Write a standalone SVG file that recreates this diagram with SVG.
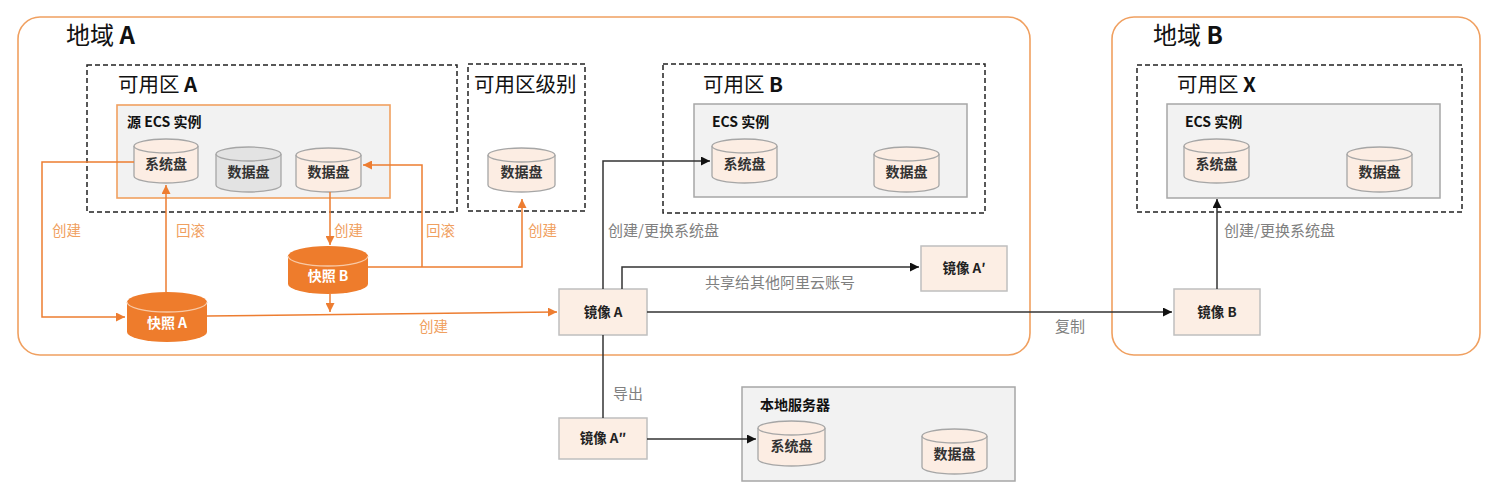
<svg xmlns="http://www.w3.org/2000/svg" width="1493" height="500" viewBox="0 0 1493 500">
<defs>
<style>
text{font-family:"Noto Sans CJK SC","Noto Sans",sans-serif;}
.region{fill:#fff;stroke:#F0A060;stroke-width:1.6;}
.zone{fill:none;stroke:#222;stroke-width:1.5;stroke-dasharray:5,3;}
.ecs{fill:#F2F2F2;stroke:#A6A6A6;stroke-width:1.5;}
.ecsSrc{fill:#F2F2F2;stroke:#F0A060;stroke-width:1.6;}
.disk{fill:#FCEDE3;stroke:#A6A6A6;stroke-width:1.3;}
.diskGray{fill:#E3E3E3;stroke:#A6A6A6;stroke-width:1.3;}
.snap{fill:#EE7C2C;stroke:none;}
.snapTop{fill:none;stroke:#F8C9A6;stroke-width:1.3;}
.img{fill:#FCEEE4;stroke:#BFBFBF;stroke-width:1.5;}
.title{font-size:24px;fill:#111;}
.ztitle{font-size:20.5px;fill:#111;}
.etitle{font-size:14px;font-weight:bold;fill:#111;}
.dlabel{font-size:14px;font-weight:bold;fill:#333;text-anchor:middle;}
.slabel{font-size:14px;font-weight:bold;fill:#fff;text-anchor:middle;}
.ilabel{font-size:13.5px;font-weight:bold;fill:#222;text-anchor:middle;}
.olabel{font-size:14.5px;fill:#F0A060;}
.glabel{font-size:15px;fill:#808080;}
.oline{fill:none;stroke:#ED7D31;stroke-width:1.5;}
.bline{fill:none;stroke:#333;stroke-width:1.5;}
</style>
<marker id="ao" viewBox="0 0 10 10" refX="10" refY="5" markerWidth="9" markerHeight="9" markerUnits="userSpaceOnUse" orient="auto"><path d="M0,0 L10,5 L0,10 z" fill="#ED7D31"/></marker>
<marker id="ab" viewBox="0 0 10 10" refX="10" refY="5" markerWidth="9" markerHeight="9" markerUnits="userSpaceOnUse" orient="auto"><path d="M0,0 L10,5 L0,10 z" fill="#111"/></marker>
</defs>
<rect width="1493" height="500" fill="#fff"/>

<g id="regionA">
<rect class="region" x="18" y="17" width="1012" height="338" rx="22"/>
<text class="title" x="66" y="44">地域 <tspan font-weight="bold">A</tspan></text>
</g>
<g id="regionB">
<rect class="region" x="1112" y="17" width="368" height="338" rx="22"/>
<text class="title" x="1153" y="44">地域 <tspan font-weight="bold">B</tspan></text>
</g>

<g id="zoneA">
<rect class="zone" x="87" y="65" width="370" height="147"/>
<text class="ztitle" x="118" y="92">可用区 <tspan font-weight="bold">A</tspan></text>
</g>
<g id="zoneLevel">
<rect class="zone" x="468" y="64" width="117" height="147"/>
<text class="ztitle" x="474" y="92">可用区级别</text>
</g>
<g id="zoneB">
<rect class="zone" x="663" y="64" width="322" height="149"/>
<text class="ztitle" x="703" y="92">可用区 <tspan font-weight="bold">B</tspan></text>
</g>
<g id="zoneX">
<rect class="zone" x="1137" y="65" width="325" height="147"/>
<text class="ztitle" x="1177" y="92">可用区 <tspan font-weight="bold">X</tspan></text>
</g>

<g id="srcEcs">
<rect class="ecsSrc" x="117" y="105" width="273" height="93"/>
<text class="etitle" x="127" y="127">源 ECS 实例</text>
</g>
<g id="ecsB">
<rect class="ecs" x="694" y="104" width="273" height="93"/>
<text class="etitle" x="712" y="127">ECS 实例</text>
</g>
<g id="ecsX">
<rect class="ecs" x="1167" y="104" width="273" height="94"/>
<text class="etitle" x="1185" y="127">ECS 实例</text>
</g>
<g id="localServer">
<rect class="ecs" x="742" y="387" width="273" height="94"/>
<text class="etitle" x="760" y="410">本地服务器</text>
</g>

<g id="sysDiskA">
<path class="disk" d="M134,146 A32,7 0 0 1 198,146 V176 A32,7 0 0 1 134,176 Z"/>
<path class="disk" d="M134,146 A32,7 0 0 0 198,146"/>
<text class="dlabel" x="166" y="169">系统盘</text>
</g>
<g id="dataDiskGray">
<path class="diskGray" d="M216,154 A32.5,7 0 0 1 281,154 V185 A32.5,7 0 0 1 216,185 Z"/>
<path class="diskGray" d="M216,154 A32.5,7 0 0 0 281,154"/>
<text class="dlabel" x="248.5" y="177">数据盘</text>
</g>
<g id="dataDiskA">
<path class="disk" d="M296,155 A32.5,7 0 0 1 361,155 V185 A32.5,7 0 0 1 296,185 Z"/>
<path class="disk" d="M296,155 A32.5,7 0 0 0 361,155"/>
<text class="dlabel" x="328.5" y="177">数据盘</text>
</g>
<g id="dataDiskZone">
<path class="disk" d="M488,155 A33.5,7 0 0 1 555,155 V185 A33.5,7 0 0 1 488,185 Z"/>
<path class="disk" d="M488,155 A33.5,7 0 0 0 555,155"/>
<text class="dlabel" x="521.5" y="177">数据盘</text>
</g>
<g id="sysDiskB">
<path class="disk" d="M712,146 A32.5,7 0 0 1 777,146 V176 A32.5,7 0 0 1 712,176 Z"/>
<path class="disk" d="M712,146 A32.5,7 0 0 0 777,146"/>
<text class="dlabel" x="744.5" y="169">系统盘</text>
</g>
<g id="dataDiskB">
<path class="disk" d="M874,154 A32.5,7 0 0 1 939,154 V185 A32.5,7 0 0 1 874,185 Z"/>
<path class="disk" d="M874,154 A32.5,7 0 0 0 939,154"/>
<text class="dlabel" x="906.5" y="177">数据盘</text>
</g>
<g id="sysDiskX">
<path class="disk" d="M1184,146 A32.5,7 0 0 1 1249,146 V176 A32.5,7 0 0 1 1184,176 Z"/>
<path class="disk" d="M1184,146 A32.5,7 0 0 0 1249,146"/>
<text class="dlabel" x="1216.5" y="169">系统盘</text>
</g>
<g id="dataDiskX">
<path class="disk" d="M1347,154 A32.5,7 0 0 1 1412,154 V185 A32.5,7 0 0 1 1347,185 Z"/>
<path class="disk" d="M1347,154 A32.5,7 0 0 0 1412,154"/>
<text class="dlabel" x="1379.5" y="177">数据盘</text>
</g>
<g id="sysDiskLocal">
<path class="disk" d="M758,428 A33.5,7 0 0 1 825,428 V459 A33.5,7 0 0 1 758,459 Z"/>
<path class="disk" d="M758,428 A33.5,7 0 0 0 825,428"/>
<text class="dlabel" x="791.5" y="451">系统盘</text>
</g>
<g id="dataDiskLocal">
<path class="disk" d="M922,436 A32.5,7 0 0 1 987,436 V467 A32.5,7 0 0 1 922,467 Z"/>
<path class="disk" d="M922,436 A32.5,7 0 0 0 987,436"/>
<text class="dlabel" x="954.5" y="459">数据盘</text>
</g>

<g id="snapA">
<path class="snap" d="M127,302 A40,10 0 0 1 207,302 V332 A40,10 0 0 1 127,332 Z"/>
<path class="snapTop" d="M127,302 A40,10 0 0 0 207,302"/>
<text class="slabel" x="167" y="328">快照 A</text>
</g>
<g id="snapB">
<path class="snap" d="M288,256 A40,10 0 0 1 368,256 V284 A40,10 0 0 1 288,284 Z"/>
<path class="snapTop" d="M288,256 A40,10 0 0 0 368,256"/>
<text class="slabel" x="328" y="281">快照 B</text>
</g>

<g id="imageA">
<rect class="img" x="559" y="289" width="88" height="46"/>
<text class="ilabel" x="603" y="317">镜像 A</text>
</g>
<g id="imageA1">
<rect class="img" x="921" y="246" width="86" height="45"/>
<text class="ilabel" x="964" y="273">镜像 A′</text>
</g>
<g id="imageB">
<rect class="img" x="1174" y="289" width="86" height="46"/>
<text class="ilabel" x="1217" y="317">镜像 B</text>
</g>
<g id="imageA2">
<rect class="img" x="559" y="418" width="88" height="41"/>
<text class="ilabel" x="603" y="443">镜像 A″</text>
</g>

<g id="connectors">
<polyline class="oline" points="134,162 42,162 42,317 125,317" marker-end="url(#ao)"/>
<line class="oline" x1="166" y1="292" x2="166" y2="185" marker-end="url(#ao)"/>
<line class="oline" x1="330" y1="192" x2="330" y2="245" marker-end="url(#ao)"/>
<polyline class="oline" points="368,267 522,267 522,199" marker-end="url(#ao)"/>
<polyline class="oline" points="422,267 422,165 363,165" marker-end="url(#ao)"/>
<line class="oline" x1="330" y1="294" x2="330" y2="312" marker-end="url(#ao)"/>
<line class="oline" x1="207" y1="316" x2="557" y2="312" marker-end="url(#ao)"/>

<polyline class="bline" points="603,289 603,161 710,161" marker-end="url(#ab)"/>
<polyline class="bline" points="622,289 622,267 919,267" marker-end="url(#ab)"/>
<line class="bline" x1="647" y1="312" x2="1172" y2="312" marker-end="url(#ab)"/>
<line class="bline" x1="1217" y1="289" x2="1217" y2="199" marker-end="url(#ab)"/>
<line class="bline" x1="603" y1="335" x2="603" y2="418"/>
<line class="bline" x1="647" y1="439" x2="756" y2="439" marker-end="url(#ab)"/>

<text class="olabel" x="52" y="236">创建</text>
<text class="olabel" x="176" y="236">回滚</text>
<text class="olabel" x="334" y="236">创建</text>
<text class="olabel" x="426" y="236">回滚</text>
<text class="olabel" x="528" y="236">创建</text>
<text class="olabel" x="419" y="332">创建</text>
<text class="glabel" x="608" y="236">创建/更换系统盘</text>
<text class="glabel" x="705" y="288">共享给其他阿里云账号</text>
<text class="glabel" x="1055" y="332">复制</text>
<text class="glabel" x="1224" y="236">创建/更换系统盘</text>
<text class="glabel" x="613" y="399">导出</text>
</g>
</svg>
